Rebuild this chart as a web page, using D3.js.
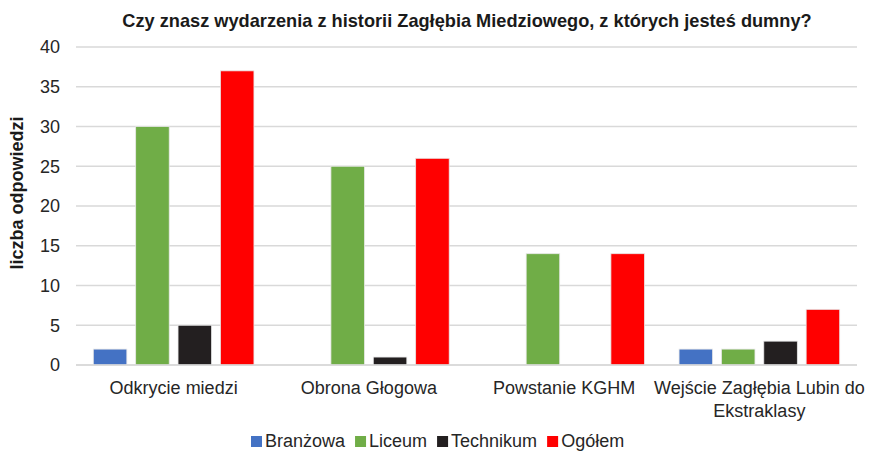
<!DOCTYPE html>
<html><head><meta charset="utf-8">
<script src="https://cdn.jsdelivr.net/npm/d3@7"></script>
<style>body{margin:0;background:#fff;} text{font-family:"Liberation Sans",Arial,sans-serif;}</style>
</head><body>
<svg id="c" width="881" height="451"></svg>
<script>
const categories = ["Odkrycie miedzi", "Obrona Głogowa", "Powstanie KGHM", "Wejście Zagłębia Lubin do Ekstraklasy"];
const categoryLines = [["Odkrycie miedzi"], ["Obrona Głogowa"], ["Powstanie KGHM"], ["Wejście Zagłębia Lubin do", "Ekstraklasy"]];
const seriesNames = ["Branżowa", "Liceum", "Technikum", "Ogółem"];
const branzowa = [2, 0, 0, 2];
const liceum = [30, 25, 14, 2];
const technikum = [5, 1, 0, 3];
const ogolem = [37, 26, 14, 7];
const yTicks = [0, 5, 10, 15, 20, 25, 30, 35, 40];
const colors = ["#4472C4", "#70AD47", "#231F20", "#FF0000"];
const title = "Czy znasz wydarzenia z historii Zagłębia Miedziowego, z których jesteś dumny?";
const yLabel = "liczba odpowiedzi";

const series = [branzowa, liceum, technikum, ogolem];
const svg = d3.select("#c");
const m = {l: 76, r: 24, t: 47, b: 86};
const W = 881, H = 451;
const x0 = d3.scaleBand().domain(categories).range([m.l, W - m.r]).padding(0);
const bw0 = x0.bandwidth();
const x1 = d3.scaleBand().domain(seriesNames).range([bw0 * 0.0886, bw0 * (1 - 0.0886)]).paddingInner(0.208);
const y = d3.scaleLinear().domain([0, 40]).range([H - m.b, m.t]);

svg.append("g").selectAll("line").data(yTicks).join("line")
  .attr("x1", m.l).attr("x2", W - m.r)
  .attr("y1", d => y(d)).attr("y2", d => y(d))
  .attr("stroke", "#D9D9D9").attr("stroke-width", 1.3);

const yAxis = svg.append("g").attr("transform", `translate(${m.l},0)`)
  .call(d3.axisLeft(y).tickValues(yTicks).tickSize(0).tickPadding(16));
yAxis.select(".domain").remove();
yAxis.selectAll("text").attr("font-size", 18).attr("fill", "#262626")
  .style("font-family", '"Liberation Sans",Arial,sans-serif');

categories.forEach((c, ci) => {
  seriesNames.forEach((s, si) => {
    const v = series[si][ci];
    if (v <= 0) return;
    svg.append("rect")
      .attr("x", x0(c) + x1(s)).attr("width", x1.bandwidth())
      .attr("y", y(v)).attr("height", y(0) - y(v))
      .attr("fill", colors[si]).attr("stroke", "#E8E8E8").attr("stroke-width", 0.8);
  });
});

svg.append("line").attr("x1", m.l).attr("x2", W - m.r).attr("y1", y(0)).attr("y2", y(0))
  .attr("stroke", "#D9D9D9").attr("stroke-width", 1.3);

categories.forEach((c, ci) => {
  const cx = x0(c) + x0.bandwidth() / 2;
  const t = svg.append("text").attr("x", cx).attr("y", 394)
    .attr("text-anchor", "middle").attr("font-size", 18).attr("fill", "#262626");
  categoryLines[ci].forEach((ln, li) => {
    t.append("tspan").attr("x", cx).attr("dy", li === 0 ? 0 : 23).text(ln);
  });
});

svg.append("text").attr("x", 467).attr("y", 27).attr("text-anchor", "middle")
  .attr("font-size", 18.2).attr("font-weight", "bold").attr("fill", "#1a1a1a").text(title);

svg.append("text").attr("transform", `translate(23,193) rotate(-90)`)
  .attr("text-anchor", "middle").attr("font-size", 18).attr("font-weight", "bold").attr("fill", "#1a1a1a").text(yLabel);

const legend = svg.append("g");
let lx = 0;
seriesNames.forEach((s, i) => {
  const g = legend.append("g").attr("transform", `translate(${lx},0)`);
  g.append("rect").attr("x", 0).attr("y", 436).attr("width", 11).attr("height", 11).attr("fill", colors[i]);
  const t = g.append("text").attr("x", 14).attr("y", 446.5).attr("font-size", 18).attr("fill", "#262626").text(s);
  lx += 14 + t.node().getComputedTextLength() + 10;
});
legend.attr("transform", `translate(${251},0)`);
</script>
</body></html>
